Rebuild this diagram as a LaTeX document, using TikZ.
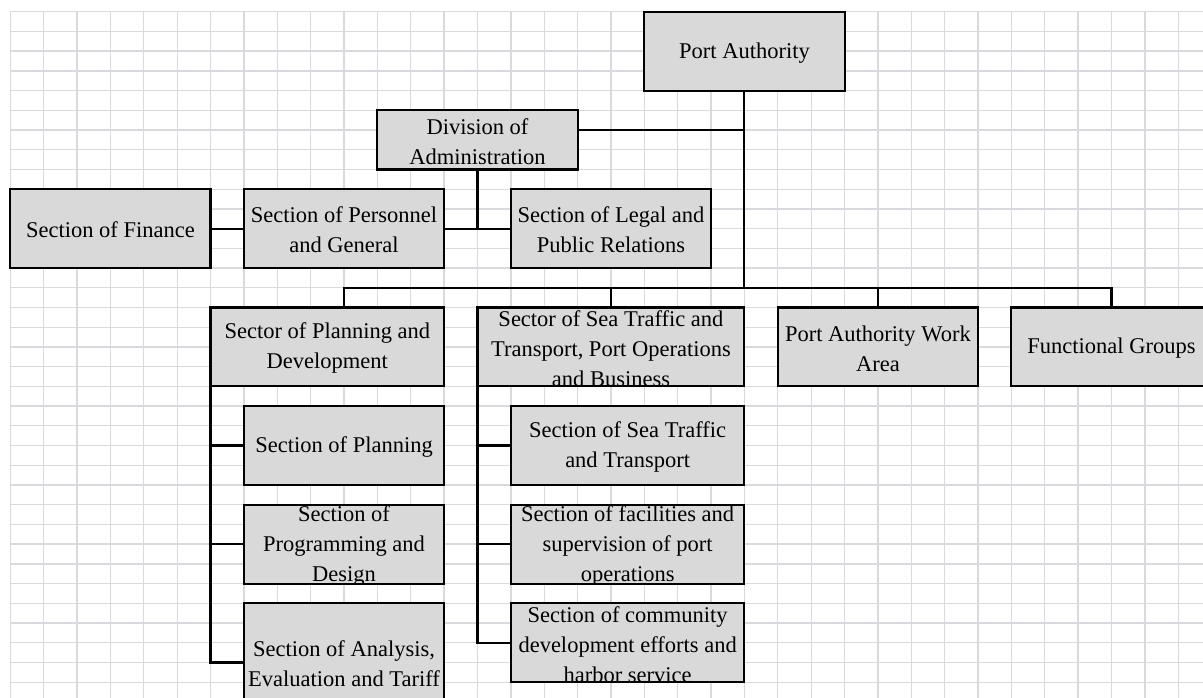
\documentclass[tikz,border=0pt]{standalone}
\usepackage{fontspec}
\setmainfont{Liberation Serif}
\definecolor{boxfill}{RGB}{217,217,217}
\definecolor{gridc}{RGB}{216,218,222}
\tikzset{
  boxtext/.style={draw=none, fill=none, align=center, inner sep=0pt, text=black,
    font=\fontsize{22.5}{30}\selectfont},
  orgbox/.style={rectangle, draw=black, fill=boxfill, line width=2.1pt,
    inner sep=0pt, outer sep=0pt,
    path picture={\node[boxtext] at ([yshift=-1.5pt]path picture bounding box.center) {#1};}},
  span/.style 2 args={minimum width=#1*33.37pt, minimum height=#2*19.72pt},
  link/.style={draw=black, line width=2.1pt},
  gridline/.style={draw=gridc, line width=1.3pt}
}
\begin{document}
\begin{tikzpicture}
\useasboundingbox (0pt,0pt) rectangle (1203pt,-697pt);
\clip (0pt,0pt) rectangle (1203pt,-697pt);
\fill[white] (0pt,0pt) rectangle (1203pt,-697pt);
\begin{scope}[shift={(10.3pt,-11.7pt)}, x=33.37pt, y=-19.72pt]
  % worksheet cell grid
  \foreach \k in {0,...,36} \draw[gridline] (\k,0) -- (\k,35);
  \foreach \j in {0,...,35} \draw[gridline] (0,\j) -- (36,\j);

  % top level
  \node[orgbox={Port Authority}, span={6}{4}] (pa) at (22,2) {};
  \node[orgbox={Division of\\Administration}, span={6}{3}] (div) at (14,6.5) {};
  \node[orgbox={Section of Finance}, span={6}{4}] (fin) at (3,11) {};
  \node[orgbox={Section of Personnel\\and General}, span={6}{4}] (pers) at (10,11) {};
  \node[orgbox={Section of Legal and\\Public Relations}, span={6}{4}] (legal) at (18,11) {};

  % sectors
  \node[orgbox={Sector of Planning and\\Development}, span={7}{4}] (sp) at (9.5,17) {};
  \node[orgbox={{Sector of Sea Traffic and\\Transport, Port Operations\\and Business}}, span={8}{4}] (ss) at (18,17) {};
  \node[orgbox={Port Authority Work\\Area}, span={6}{4}] (pawa) at (26,17) {};
  \node[orgbox={Functional Groups}, span={6}{4}] (fg) at (33,17) {};

  % sections under planning
  \node[orgbox={Section of Planning}, span={6}{4}] (pl) at (10,22) {};
  \node[orgbox={Section of\\Programming and\\Design}, span={6}{4}] (pd) at (10,27) {};
  \node[orgbox={{Section of Analysis,\\Evaluation and Tariff}}, span={6}{6}] (an) at (10,33) {};

  % sections under sea traffic
  \node[orgbox={Section of Sea Traffic\\and Transport}, span={7}{4}] (sst) at (18.5,22) {};
  \node[orgbox={Section of facilities and\\supervision of port\\operations}, span={7}{4}] (fac) at (18.5,27) {};
  \node[orgbox={Section of community\\development efforts and\\harbor service}, span={7}{4}] (com) at (18.5,32) {};

  % connectors
  \coordinate (busjoin) at (22,14);
  \coordinate (divtap) at (17,6);
  \coordinate (spdrop) at (10,15);
  \draw[link] (pa.south) -- (busjoin);
  \draw[link] (divtap) -- (divtap -| pa.south);
  \draw[link] (div.south) -- (div.south |- pers.east);
  \draw[link] (pers.east) -- (legal.west);
  \draw[link] (fin.east) -- (pers.west);
  \draw[link] (spdrop) -- (spdrop |- busjoin) -- (busjoin -| fg.north) -- (fg.north);
  \draw[link] (busjoin -| ss.north) -- (ss.north);
  \draw[link] (busjoin -| pawa.north) -- (pawa.north);
  \draw[link] (sp.south west) |- (an.west);
  \draw[link] (sp.south west |- pl.west) -- (pl.west);
  \draw[link] (sp.south west |- pd.west) -- (pd.west);
  \draw[link] (ss.south west) |- (com.west);
  \draw[link] (ss.south west |- sst.west) -- (sst.west);
  \draw[link] (ss.south west |- fac.west) -- (fac.west);
\end{scope}
\end{tikzpicture}
\end{document}
